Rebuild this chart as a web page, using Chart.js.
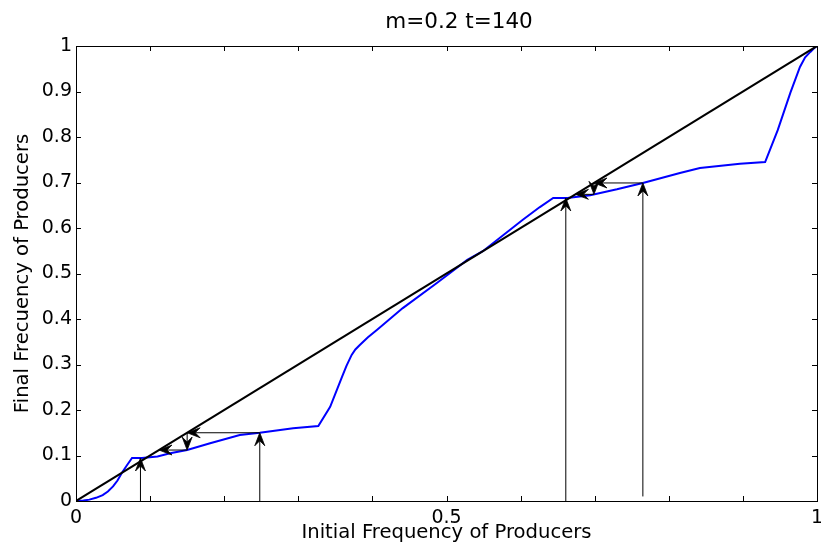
<!DOCTYPE html>
<html>
<head>
<meta charset="utf-8">
<script src="https://cdn.jsdelivr.net/npm/chart.js@4/dist/chart.umd.min.js"></script>
<style>
  html, body { margin: 0; padding: 0; background: #fff; }
  #wrap { width: 821px; height: 554px; }
</style>
</head>
<body>
<div id="wrap"><canvas id="c" width="821" height="554"></canvas></div>
<script>
// Map from initial to final producer frequency after t generations
const initialFreq = [0, 0.01, 0.018, 0.027, 0.036, 0.043, 0.05, 0.056, 0.062, 0.069, 0.0756, 0.089, 0.11, 0.127, 0.15, 0.181,
  0.221, 0.248, 0.293, 0.327, 0.343, 0.359, 0.365, 0.372, 0.377, 0.383, 0.394, 0.406, 0.441, 0.487, 0.528, 0.549, 0.603,
  0.626, 0.644, 0.663, 0.694, 0.73, 0.765, 0.815, 0.842, 0.896, 0.93, 0.947, 0.964, 0.977, 0.984, 0.991, 0.996, 1];
const finalFreq = [0, 0.001, 0.003, 0.007, 0.013, 0.021, 0.032, 0.045, 0.062, 0.079, 0.0945, 0.0945, 0.098, 0.105, 0.112, 0.127,
  0.145, 0.150, 0.160, 0.165, 0.207, 0.273, 0.297, 0.321, 0.333, 0.343, 0.360, 0.376, 0.424, 0.479, 0.530, 0.549, 0.618,
  0.646, 0.666, 0.666, 0.672, 0.685, 0.699, 0.721, 0.732, 0.741, 0.745, 0.815, 0.897, 0.954, 0.975, 0.987, 0.995, 1];

// Identity line (fixed points lie on it)
const diagX = [0, 1];
const diagY = [0, 1];

// Cobweb iteration arrows: start and end points
const arrowX0 = [0.087, 0.248, 0.248, 0.150, 0.150, 0.661, 0.765, 0.765, 0.699, 0.699];
const arrowY0 = [0, 0, 0.150, 0.150, 0.112, 0, 0.01, 0.699, 0.699, 0.674];
const arrowX1 = [0.087, 0.248, 0.150, 0.150, 0.112, 0.661, 0.765, 0.699, 0.699, 0.674];
const arrowY1 = [0.0945, 0.150, 0.150, 0.112, 0.112, 0.666, 0.699, 0.699, 0.674, 0.674];

// Tick labels
const xTickLabels = ['0', '', '', '', '', '0.5', '', '', '', '', '1'];
const yTickLabels = ['0', '0.1', '0.2', '0.3', '0.4', '0.5', '0.6', '0.7', '0.8', '0.9', '1'];

const titleText = 'm=0.2 t=140';
const xTitle = 'Initial Frequency of Producers';
const yTitle = 'Final Frecuency of Producers';

const FONT = 'DejaVu Sans';
const FS = 19;
const FS_AXIS = 19.6;
const FS_TITLE = 21.5;

const toPts = (xs, ys) => xs.map((x, i) => ({ x: x, y: ys[i] }));

// Frame, inward ticks, arrows and title
const decorations = {
  id: 'decorations',
  afterDatasetsDraw(chart) {
    const { ctx, chartArea: a, scales: { x, y } } = chart;
    ctx.save();
    // arrows
    ctx.strokeStyle = '#000';
    ctx.fillStyle = '#000';
    ctx.lineWidth = 1;
    for (let i = 0; i < arrowX0.length; i++) {
      const px0 = x.getPixelForValue(arrowX0[i]), py0 = y.getPixelForValue(arrowY0[i]);
      const px1 = x.getPixelForValue(arrowX1[i]), py1 = y.getPixelForValue(arrowY1[i]);
      const ang = Math.atan2(py1 - py0, px1 - px0);
      const c = Math.cos(ang), s = Math.sin(ang);
      const len = 13, half = 5, notch = 8;
      ctx.beginPath();
      ctx.moveTo(px0, py0);
      ctx.lineTo(px1 - c * notch, py1 - s * notch);
      ctx.stroke();
      const bx = px1 - c * len, by = py1 - s * len;
      ctx.beginPath();
      ctx.moveTo(px1, py1);
      ctx.lineTo(bx - s * half, by + c * half);
      ctx.lineTo(px1 - c * notch, py1 - s * notch);
      ctx.lineTo(bx + s * half, by - c * half);
      ctx.closePath();
      ctx.fill();
      ctx.lineWidth = 0.8;
      ctx.stroke();
      ctx.lineWidth = 1;
    }
    // frame
    ctx.strokeRect(Math.round(a.left) + 0.5, Math.round(a.top) + 0.5,
      Math.round(a.right - a.left), Math.round(a.bottom - a.top));
    // inward ticks on all sides
    const tl = 5;
    ctx.beginPath();
    x.ticks.forEach(t => {
      const p = Math.round(x.getPixelForValue(t.value)) + 0.5;
      ctx.moveTo(p, a.bottom); ctx.lineTo(p, a.bottom - tl);
      ctx.moveTo(p, a.top); ctx.lineTo(p, a.top + tl);
    });
    y.ticks.forEach(t => {
      const p = Math.round(y.getPixelForValue(t.value)) + 0.5;
      ctx.moveTo(a.left, p); ctx.lineTo(a.left + tl, p);
      ctx.moveTo(a.right, p); ctx.lineTo(a.right - tl, p);
    });
    ctx.stroke();
    // title
    ctx.font = FS_TITLE + 'px "' + FONT + '"';
    ctx.textAlign = 'center';
    ctx.textBaseline = 'middle';
    ctx.fillText(titleText, 459, 22);
    ctx.restore();
  }
};

new Chart(document.getElementById('c'), {
  type: 'scatter',
  data: {
    datasets: [
      {
        data: toPts(diagX, diagY),
        showLine: true,
        borderColor: '#000',
        borderWidth: 2,
        pointRadius: 0,
        tension: 0
      },
      {
        data: toPts(initialFreq, finalFreq),
        showLine: true,
        borderColor: '#0000ff',
        borderWidth: 2,
        pointRadius: 0,
        tension: 0
      }
    ]
  },
  options: {
    responsive: false,
    animation: false,
    events: [],
    layout: { padding: { top: 46, right: 4, left: 0, bottom: 0 } },
    plugins: { legend: { display: false }, tooltip: { enabled: false }, title: { display: false } },
    scales: {
      x: {
        type: 'linear', min: 0, max: 1,
        grid: { display: false, drawTicks: false },
        border: { display: false },
        ticks: {
          stepSize: 0.1, autoSkip: false, maxRotation: 0, padding: 6,
          color: '#000', font: { family: FONT, size: FS },
          callback: (v, i) => xTickLabels[i]
        },
        title: { display: true, text: xTitle, color: '#000', font: { family: FONT, size: FS_AXIS }, padding: { top: 0, bottom: 9 } },
        afterFit(s) { s.height = 53; s.paddingLeft = 0; s.paddingRight = 0; }
      },
      y: {
        type: 'linear', min: 0, max: 1,
        grid: { display: false, drawTicks: false },
        border: { display: false },
        ticks: {
          stepSize: 0.1, autoSkip: false, padding: 4,
          color: '#000', font: { family: FONT, size: FS },
          callback: (v, i) => yTickLabels[i]
        },
        title: { display: true, text: yTitle, color: '#000', font: { family: FONT, size: FS_AXIS }, padding: { top: 11, bottom: 0 } },
        afterFit(s) { s.width = 76; s.paddingTop = 0; s.paddingBottom = 0; }
      }
    }
  },
  plugins: [decorations]
});
</script>
</body>
</html>
